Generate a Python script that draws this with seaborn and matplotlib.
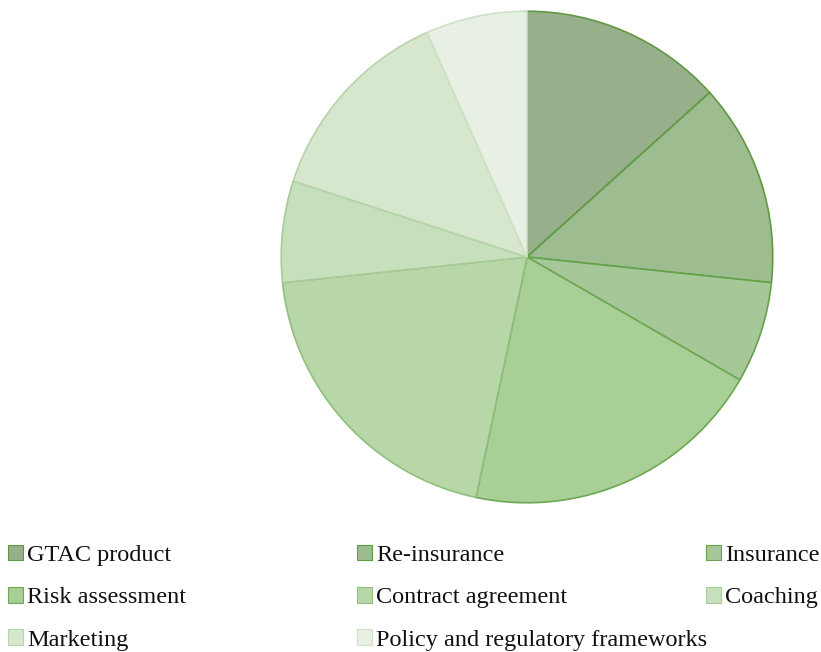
import matplotlib
matplotlib.use("Agg")
import matplotlib.pyplot as plt
import matplotlib.patches as mpatches
import seaborn as sns

categories = ["GTAC product", "Re-insurance", "Insurance", "Risk assessment",
              "Contract agreement", "Coaching", "Marketing",
              "Policy and regulatory frameworks"]
values = [2, 2, 1, 3, 3, 1, 2, 1]
face_colors = ["#97b08b", "#9dbc8f", "#a6c898", "#a8cf95",
               "#b7d7a8", "#c7e0bc", "#d6e7ce", "#e7f0e3"]
edge_colors = ["#5f9a42", "#5f9a42", "#66a24a", "#6ea853",
               "#8fbf7a", "#a8cb99", "#b6d3aa", "#cfe1c7"]

sns.set_theme(style="white")
plt.rcParams["font.family"] = ["Liberation Serif", "DejaVu Serif"]

palette = sns.color_palette(face_colors)

fig = plt.figure(figsize=(8.21, 6.52), dpi=100)
ax = fig.add_axes([(527 - 247) / 821, (652 - 257 - 247) / 652, 494 / 821, 494 / 652])
wedges, _ = ax.pie(values, colors=palette, startangle=90, counterclock=False,
                   radius=1.0)
for w, ec in zip(wedges, edge_colors):
    w.set_edgecolor(ec)
    w.set_linewidth(1.2)
ax.set_xlim(-1.005, 1.005)
ax.set_ylim(-1.005, 1.005)
ax.set_aspect("equal")
ax.axis("off")

handles = [mpatches.Patch(facecolor=fc, edgecolor=ec, linewidth=0.8, label=lab)
           for fc, ec, lab in zip(face_colors, edge_colors, categories)]

columns = [[0, 3, 6], [1, 4, 7], [2, 5]]
xs = [8 / 821, 357 / 821, 706 / 821]
for col, x in zip(columns, xs):
    leg = fig.legend(handles=[handles[i] for i in col], loc="upper left",
                     bbox_to_anchor=(x, 1 - 545 / 652), frameon=False,
                     fontsize=17.5, handlelength=0.6, handleheight=0.6,
                     handletextpad=0.2, labelspacing=0.86, borderpad=0,
                     borderaxespad=0, labelcolor="#111111")

fig.savefig("out.png", dpi=100)
